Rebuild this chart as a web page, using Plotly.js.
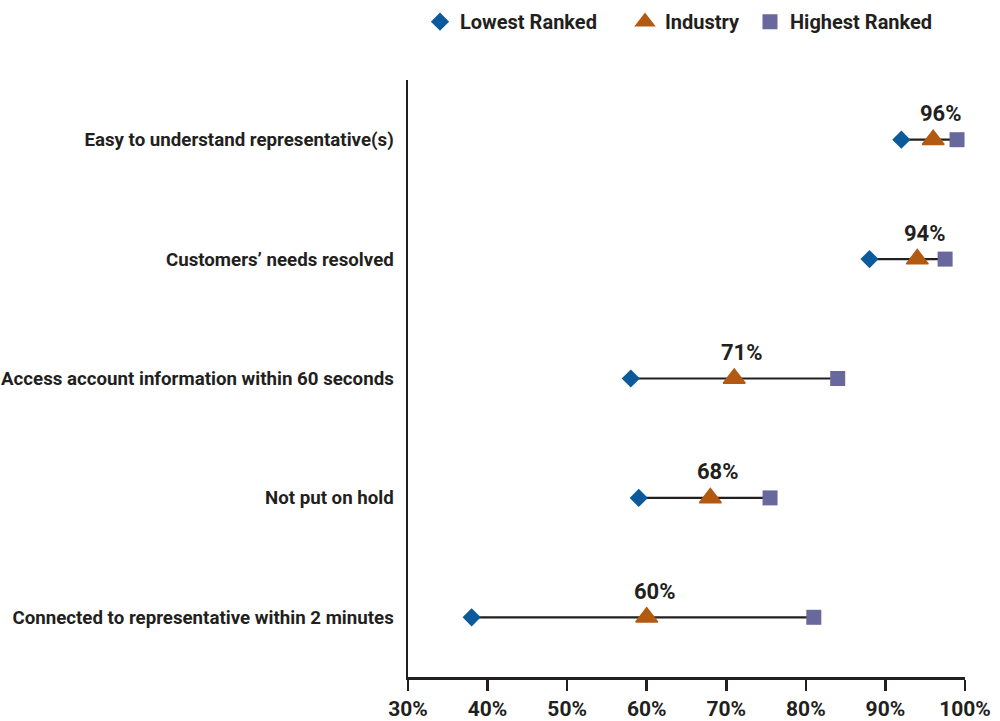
<!DOCTYPE html>
<html>
<head>
<meta charset="utf-8">
<script src="https://cdn.plot.ly/plotly-3.0.1.min.js"></script>
<style>
  html, body { margin: 0; padding: 0; background: #ffffff; }
  #chart { width: 1000px; height: 721px; }
</style>
</head>
<body>
<div id="chart"></div>
<script>
// Service metrics, listed top to bottom
const categories = [
  "Easy to understand representative(s)",
  "Customers\u2019 needs resolved",
  "Access account information within 60 seconds",
  "Not put on hold",
  "Connected to representative within 2 minutes"
];
// Percent values per metric
const lowestRanked  = [92, 88, 58, 59, 38];
const industry      = [96, 94, 71, 68, 60];
const highestRanked = [99, 97.5, 84, 75.5, 81];
const industryLabels = ["96%", "94%", "71%", "68%", "60%"];
const xTickVals  = [30, 40, 50, 60, 70, 80, 90, 100];
const xTickText  = ["30%", "40%", "50%", "60%", "70%", "80%", "90%", "100%"];

const FONT = 'Roboto, sans-serif';
const INK = '#231f20';
const BLUE = '#0b5a9b', ORANGE = '#b25a12', SLATE = '#68689c';

// Range lines from lowest to highest for each metric
const lineX = [], lineY = [];
categories.forEach((c, i) => {
  lineX.push(lowestRanked[i], highestRanked[i], null);
  lineY.push(c, c, null);
});

const traces = [
  {
    x: lineX, y: lineY, type: 'scatter', mode: 'lines',
    line: { color: INK, width: 2.2 },
    showlegend: false, hoverinfo: 'skip'
  },
  {
    name: 'Lowest Ranked', x: lowestRanked, y: categories,
    type: 'scatter', mode: 'markers', legend: 'legend',
    marker: { symbol: 'diamond', size: 14, color: BLUE }
  },
  {
    name: 'Industry', x: industry, y: categories,
    type: 'scatter', mode: 'markers', legend: 'legend2',
    marker: { symbol: 'triangle-up', size: 19, color: ORANGE,
              line: { color: ORANGE, width: 1.5 } }
  },
  {
    name: 'Highest Ranked', x: highestRanked, y: categories,
    type: 'scatter', mode: 'markers', legend: 'legend3',
    marker: { symbol: 'square', size: 15, color: SLATE }
  }
];

// Industry value labels above each triangle
const annotations = categories.map((c, i) => ({
  x: industry[i], y: c, xref: 'x', yref: 'y',
  text: industryLabels[i], showarrow: false,
  xshift: 8, yshift: 26,
  font: { family: FONT, size: 22, color: INK, weight: 'bold' }
}));

const legendBase = {
  orientation: 'h', xref: 'container', yref: 'container',
  xanchor: 'left', y: 0.97, yanchor: 'middle',
  font: { family: FONT, size: 20, color: INK, weight: 'bold' },
  itemwidth: 30, bgcolor: 'rgba(0,0,0,0)'
};

const layout = {
  width: 1000, height: 721,
  margin: { l: 408, r: 35, t: 80, b: 44 },
  paper_bgcolor: '#ffffff', plot_bgcolor: '#ffffff',
  font: { family: FONT, color: INK, size: 18, weight: 'bold' },
  showlegend: true,
  legend:  Object.assign({}, legendBase, { x: 0.420 }),
  legend2: Object.assign({}, legendBase, { x: 0.625 }),
  legend3: Object.assign({}, legendBase, { x: 0.750 }),
  annotations: annotations,
  xaxis: {
    range: [30, 100], tickvals: xTickVals, ticktext: xTickText,
    showgrid: false, zeroline: false,
    showline: true, linecolor: INK, linewidth: 2.5,
    ticks: 'outside', ticklen: 11, tickwidth: 2.5, tickcolor: INK,
    tickfont: { family: FONT, size: 21, color: INK, weight: 'bold' },
    fixedrange: true
  },
  yaxis: {
    type: 'category', categoryorder: 'array', categoryarray: categories,
    range: [4.5, -0.5],
    showgrid: false, zeroline: false,
    showline: true, linecolor: INK, linewidth: 2.5,
    ticks: '', ticklabelstandoff: 8,
    tickfont: { family: FONT, size: 18.7, color: INK, weight: 'bold' },
    fixedrange: true
  }
};

Plotly.newPlot('chart', traces, layout, { displayModeBar: false, staticPlot: true });
</script>
</body>
</html>
